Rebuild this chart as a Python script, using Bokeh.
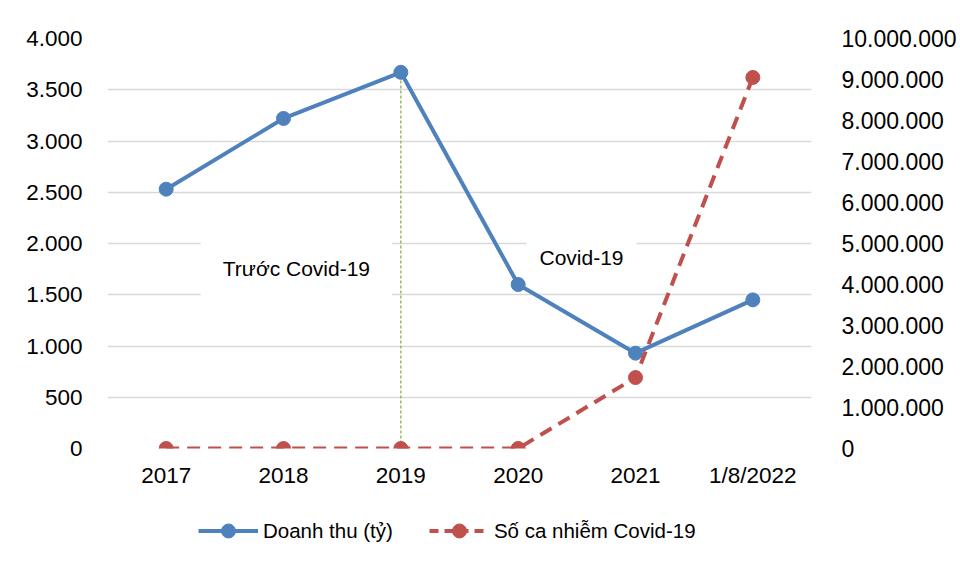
from bokeh.plotting import figure
from bokeh.layouts import column
from bokeh.models import (LinearAxis, Range1d, FixedTicker, CustomJSTickFormatter,
                          Legend, LegendItem, Label, ColumnDataSource)
from bokeh.embed import file_html
from bokeh.resources import INLINE

categories = ["2017", "2018", "2019", "2020", "2021", "1/8/2022"]
doanh_thu = [2530, 3220, 3670, 1600, 930, 1450]
so_ca = [0, 0, 0, 1465, 1730000, 9050000]
left_ticks = [0, 500, 1000, 1500, 2000, 2500, 3000, 3500, 4000]
right_ticks = [0, 1000000, 2000000, 3000000, 4000000, 5000000,
               6000000, 7000000, 8000000, 9000000, 10000000]
marker_year = "2019"
marker_value = 3670
label_truoc = "Trước Covid-19"
label_covid = "Covid-19"
series_names = ["Doanh thu (tỷ)", "Số ca nhiễm Covid-19"]

FONT = "Liberation Sans"
BLUE = "#4F81BD"
RED = "#C0504D"
GREEN = "#9BBB59"
GRID = "#D9D9D9"

p = figure(x_range=categories, y_range=Range1d(0, 4000), width=960, height=500,
           output_backend="svg", toolbar_location=None,
           min_border_left=107, min_border_right=149, min_border_top=38,
           min_border_bottom=52)
p.extra_y_ranges = {"covid": Range1d(0, 10000000)}
p.outline_line_color = None
p.xgrid.grid_line_color = None
p.ygrid.grid_line_color = GRID
p.ygrid.grid_line_width = 1.5
p.ygrid.ticker = FixedTicker(ticks=left_ticks)

fmt = CustomJSTickFormatter(code="return Math.round(tick).toString().replace(/\\B(?=(\\d{3})+(?!\\d))/g, '.');")

p.yaxis.ticker = FixedTicker(ticks=left_ticks)
p.yaxis.formatter = fmt
for ax in [p.xaxis[0], p.yaxis[0]]:
    ax.axis_line_color = None
    ax.major_tick_line_color = None
    ax.minor_tick_line_color = None
    ax.major_label_text_font = FONT
    ax.major_label_text_font_size = "22.5px"
    ax.major_label_text_color = "#000000"
p.yaxis.major_label_standoff = 19
p.xaxis.major_label_standoff = 8

raxis = LinearAxis(y_range_name="covid", ticker=FixedTicker(ticks=right_ticks), formatter=fmt)
raxis.axis_line_color = None
raxis.major_tick_line_color = None
raxis.minor_tick_line_color = None
raxis.major_label_text_font = FONT
raxis.major_label_text_font_size = "23px"
raxis.major_label_text_color = "#000000"
raxis.major_label_standoff = 24
p.add_layout(raxis, "right")

# annotation boxes
lab1 = Label(x=1.61, y=1756, text=label_truoc, text_font=FONT, text_font_size="21px",
             text_color="#000000",
             text_align="center", text_baseline="middle", background_fill_color="white",
             padding=22)
lab2 = Label(x=4.04, y=1863, text=label_covid, text_font=FONT, text_font_size="21px",
             text_color="#000000",
             text_align="center", text_baseline="middle", background_fill_color="white",
             padding=13)
p.add_layout(lab1)
p.add_layout(lab2)

# green divider
p.segment(x0=[marker_year], y0=[0], x1=[marker_year], y1=[marker_value],
          line_color=GREEN, line_width=1.5, line_dash="3 2")

src = ColumnDataSource(dict(x=categories, dt=doanh_thu, ca=so_ca))
p.line("x", "dt", source=src, line_color=BLUE, line_width=4)
p.scatter("x", "dt", source=src, size=14, fill_color=BLUE, line_color=BLUE)
p.line("x", "ca", source=src, y_range_name="covid", line_color=RED, line_width=4,
       line_dash="13 8")
p.scatter("x", "ca", source=src, y_range_name="covid", size=14, fill_color=RED,
          line_color=RED)

# legend strip (below the chart); its proxy renderers sit outside the visible range
lf = figure(width=960, height=61, output_backend="svg", toolbar_location=None,
            min_border=0, x_range=Range1d(0, 1), y_range=Range1d(0, 1))
lf.outline_line_color = None
lf.axis.visible = False
lf.grid.visible = False
proxy = ColumnDataSource(dict(x=[-5, -6], y=[-5, -6]))
a1 = lf.line("x", "y", source=proxy, line_color=BLUE, line_width=4)
b1 = lf.scatter("x", "y", source=proxy, size=14, fill_color=BLUE, line_color=BLUE)
a2 = lf.line("x", "y", source=proxy, line_color=RED, line_width=4, line_dash="9 6")
b2 = lf.scatter("x", "y", source=proxy, size=14, fill_color=RED, line_color=RED)

legend = Legend(items=[LegendItem(label=series_names[0], renderers=[a1, b1]),
                       LegendItem(label=series_names[1], renderers=[a2, b2])],
                orientation="horizontal", location=(91, 13),
                label_text_font=FONT, label_text_font_size="20.5px",
                label_text_color="#000000",
                glyph_width=60, glyph_height=35, label_standoff=5, spacing=36, padding=0,
                margin=0,
                border_line_color=None, background_fill_alpha=0)
lf.add_layout(legend, "center")

layout = column(p, lf, spacing=0)
open("out.html", "w").write(file_html(layout, INLINE))
